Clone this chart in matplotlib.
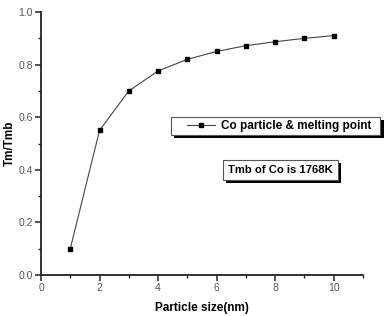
import matplotlib
matplotlib.use("Agg")
import matplotlib.pyplot as plt
from matplotlib.ticker import MultipleLocator, FormatStrFormatter
from matplotlib.legend_handler import HandlerLine2D
import matplotlib.patheffects as pe

sizes = [1, 2, 3, 4, 5, 6, 7, 8, 9, 10]
ratio = [0.10, 0.55, 0.70, 0.776, 0.82, 0.85, 0.872, 0.887, 0.90, 0.91]
series_label = "Co particle & melting point"
note_text = "Tmb of Co is 1768K"
xlabel = "Particle size(nm)"
ylabel = "Tm/Tmb"

plt.rcParams['font.family'] = ['Liberation Sans', 'DejaVu Sans']


class ShiftedHandler(HandlerLine2D):
    def __init__(self, shift, **kw):
        super().__init__(**kw)
        self.shift = shift

    def create_artists(self, legend, orig_handle, xdescent, ydescent,
                       width, height, fontsize, trans):
        return super().create_artists(legend, orig_handle,
                                      xdescent - self.shift, ydescent,
                                      width - self.shift, height,
                                      fontsize, trans)


fig = plt.figure(figsize=(3.84, 3.16), dpi=100)
ax = fig.add_axes([0.1068, 0.1297, 0.8385, 0.8323])

line, = ax.plot(sizes, ratio, color='#444444', lw=0.8, marker='s', ms=3.2,
                markerfacecolor='black', markeredgecolor='black',
                label=series_label)

ax.set_xlim(0, 11)
ax.set_ylim(0, 1.0)
ax.xaxis.set_major_locator(MultipleLocator(2))
ax.xaxis.set_minor_locator(MultipleLocator(1))
ax.yaxis.set_major_locator(MultipleLocator(0.2))
ax.yaxis.set_minor_locator(MultipleLocator(0.1))
ax.xaxis.set_major_formatter(FormatStrFormatter('%d'))
ax.yaxis.set_major_formatter(FormatStrFormatter('%.1f'))

for s in ['top', 'right']:
    ax.spines[s].set_visible(False)
for s in ['left', 'bottom']:
    ax.spines[s].set_linewidth(1.3)
    ax.spines[s].set_color('#222222')

ax.tick_params(which='major', direction='out', length=4, width=1.1,
               labelsize=7.5, labelcolor='#555555', color='#222222', pad=2)
ax.tick_params(which='minor', direction='out', length=2.5, width=1.0,
               color='#222222')

ax.set_xlabel(xlabel, fontsize=8.5, fontweight='bold', labelpad=6)
ax.set_ylabel(ylabel, fontsize=8.5, fontweight='bold', labelpad=2)

leg = ax.legend(handles=[line], labels=[series_label + "  "],
                handler_map={line: ShiftedHandler(9.4)},
                loc='upper left', bbox_to_anchor=(0.403, 0.602), frameon=True,
                fancybox=False, edgecolor='#555555', framealpha=1,
                prop={'weight': 'bold', 'size': 8.5}, handlelength=3.47,
                borderpad=0.25, handletextpad=0.5, borderaxespad=0)
leg.get_frame().set_linewidth(0.8)
leg.get_frame().set_path_effects([pe.withSimplePatchShadow(
    offset=(2.3, -2.3), shadow_rgbFace='black', alpha=1)])

t = ax.text(0.743, 0.399, note_text, transform=ax.transAxes,
            fontsize=8.1, fontweight='bold', va='center', ha='center',
            bbox=dict(boxstyle='square,pad=0.45', facecolor='white',
                      edgecolor='#555555', linewidth=0.8))
t.get_bbox_patch().set_path_effects([pe.withSimplePatchShadow(
    offset=(2.3, -2.3), shadow_rgbFace='black', alpha=1)])

fig.savefig('out.png', dpi=100)
